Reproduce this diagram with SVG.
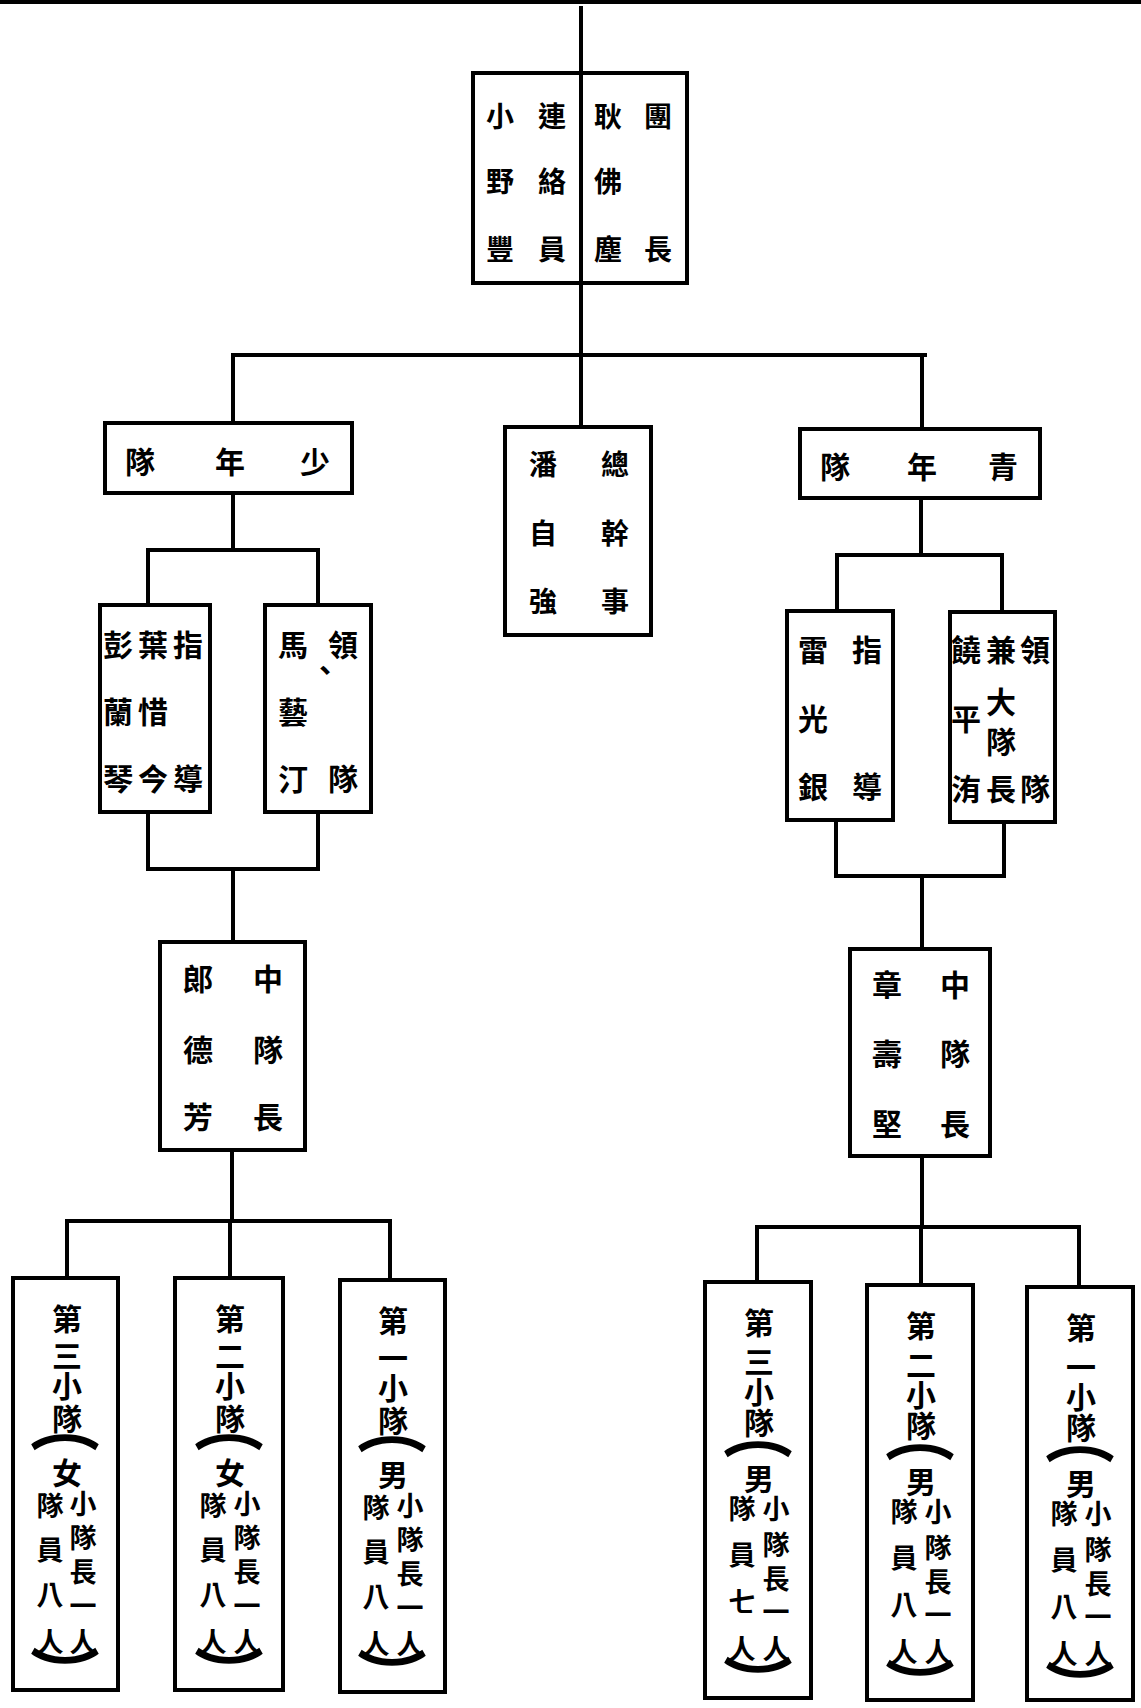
<svg xmlns="http://www.w3.org/2000/svg" width="1141" height="1708" viewBox="0 0 1141 1708">
<style>
.ln{stroke:#000;stroke-width:4;fill:none;stroke-linecap:square}
.bx{fill:#fff;stroke:#000;stroke-width:4}
.t{font-family:"Noto Sans CJK TC","Noto Sans CJK SC",sans-serif;font-weight:700;fill:#000;text-anchor:middle;dominant-baseline:central}
.f28{font-size:28px}
.f30{font-size:30px}
.f27{font-size:27px}
.br{font-family:"Noto Sans CJK TC","Noto Sans CJK SC",sans-serif;font-weight:900;font-size:50px;fill:#000;text-anchor:middle;dominant-baseline:central}
</style>
<rect x="0" y="0" width="1141" height="1708" fill="#fff"/>
<g id="connectors">
<line class="ln" x1="0" y1="2" x2="1141" y2="2"/>
<line class="ln" x1="581" y1="8" x2="581" y2="73"/>
<line class="ln" x1="581" y1="283" x2="581" y2="355"/>
<line class="ln" x1="233" y1="355" x2="925" y2="355"/>
<line class="ln" x1="233" y1="355" x2="233" y2="423"/>
<line class="ln" x1="581" y1="355" x2="581" y2="427"/>
<line class="ln" x1="922" y1="355" x2="922" y2="429"/>
<line class="ln" x1="233" y1="493" x2="233" y2="550"/>
<line class="ln" x1="148" y1="550" x2="318" y2="550"/>
<line class="ln" x1="148" y1="550" x2="148" y2="605"/>
<line class="ln" x1="318" y1="550" x2="318" y2="605"/>
<line class="ln" x1="148" y1="812" x2="148" y2="869"/>
<line class="ln" x1="318" y1="812" x2="318" y2="869"/>
<line class="ln" x1="148" y1="869" x2="318" y2="869"/>
<line class="ln" x1="233" y1="869" x2="233" y2="942"/>
<line class="ln" x1="232" y1="1150" x2="232" y2="1221"/>
<line class="ln" x1="67" y1="1221" x2="390" y2="1221"/>
<line class="ln" x1="67" y1="1221" x2="67" y2="1278"/>
<line class="ln" x1="230" y1="1221" x2="230" y2="1278"/>
<line class="ln" x1="390" y1="1221" x2="390" y2="1280"/>
<line class="ln" x1="921" y1="498" x2="921" y2="555"/>
<line class="ln" x1="837" y1="555" x2="1002" y2="555"/>
<line class="ln" x1="837" y1="555" x2="837" y2="611"/>
<line class="ln" x1="1002" y1="555" x2="1002" y2="612"/>
<line class="ln" x1="836" y1="820" x2="836" y2="876"/>
<line class="ln" x1="1004" y1="822" x2="1004" y2="876"/>
<line class="ln" x1="836" y1="876" x2="1004" y2="876"/>
<line class="ln" x1="922" y1="876" x2="922" y2="949"/>
<line class="ln" x1="922" y1="1156" x2="922" y2="1227"/>
<line class="ln" x1="757" y1="1227" x2="1079" y2="1227"/>
<line class="ln" x1="757" y1="1227" x2="757" y2="1282"/>
<line class="ln" x1="921" y1="1227" x2="921" y2="1285"/>
<line class="ln" x1="1079" y1="1227" x2="1079" y2="1287"/>
</g>
<g id="top">
<rect class="bx" x="473" y="73" width="214" height="210"/>
<line class="ln" x1="581" y1="73" x2="581" y2="283"/>
<text class="t f28"><tspan x="658" y="115">團</tspan><tspan x="658" y="248">長</tspan></text>
<text class="t f28"><tspan x="608" y="115">耿</tspan><tspan x="608" y="180">佛</tspan><tspan x="608" y="248">塵</tspan></text>
<text class="t f28"><tspan x="552" y="115">連</tspan><tspan x="552" y="180">絡</tspan><tspan x="552" y="248">員</tspan></text>
<text class="t f28"><tspan x="500" y="115">小</tspan><tspan x="500" y="180">野</tspan><tspan x="500" y="248">豐</tspan></text>
</g>
<g id="shaonian">
<rect class="bx" x="105" y="423" width="247" height="70"/>
<text class="t f30"><tspan x="140" y="460">隊</tspan><tspan x="230" y="460">年</tspan><tspan x="315" y="460">少</tspan></text>
</g>
<g id="zongganshi">
<rect class="bx" x="505" y="427" width="146" height="208"/>
<text class="t f28"><tspan x="615" y="463">總</tspan><tspan x="615" y="532">幹</tspan><tspan x="615" y="600">事</tspan></text>
<text class="t f28"><tspan x="543" y="463">潘</tspan><tspan x="543" y="532">自</tspan><tspan x="543" y="600">強</tspan></text>
</g>
<g id="qingnian">
<rect class="bx" x="800" y="429" width="240" height="69"/>
<text class="t f30"><tspan x="835" y="465">隊</tspan><tspan x="922" y="465">年</tspan><tspan x="1003" y="465">青</tspan></text>
</g>
<g id="shaonian-zhidao">
<rect class="bx" x="100" y="605" width="110" height="207"/>
<text class="t f30"><tspan x="188" y="643">指</tspan><tspan x="188" y="777">導</tspan></text>
<text class="t f30"><tspan x="153" y="643">葉</tspan><tspan x="153" y="710">惜</tspan><tspan x="153" y="777">今</tspan></text>
<text class="t f30"><tspan x="118" y="643">彭</tspan><tspan x="118" y="710">蘭</tspan><tspan x="118" y="777">琴</tspan></text>
</g>
<g id="shaonian-lingdui">
<rect class="bx" x="265" y="605" width="106" height="207"/>
<text class="t f30"><tspan x="343" y="643">領</tspan><tspan x="343" y="777">隊</tspan></text>
<text class="t f30"><tspan x="293" y="643">馬</tspan><tspan x="325" y="668">、</tspan><tspan x="293" y="710">藝</tspan><tspan x="293" y="777">汀</tspan></text>
</g>
<g id="qingnian-zhidao">
<rect class="bx" x="787" y="611" width="106" height="209"/>
<text class="t f30"><tspan x="867" y="648">指</tspan><tspan x="867" y="785">導</tspan></text>
<text class="t f30"><tspan x="813" y="648">雷</tspan><tspan x="813" y="717">光</tspan><tspan x="813" y="785">銀</tspan></text>
</g>
<g id="qingnian-lingdui">
<rect class="bx" x="950" y="612" width="105" height="210"/>
<text class="t f30"><tspan x="1035" y="648">領</tspan><tspan x="1035" y="787">隊</tspan></text>
<text class="t f30"><tspan x="1001" y="648">兼</tspan><tspan x="1001" y="700">大</tspan><tspan x="1001" y="740">隊</tspan><tspan x="1001" y="787">長</tspan></text>
<text class="t f30"><tspan x="966" y="648">饒</tspan><tspan x="966" y="717">平</tspan><tspan x="966" y="787">洧</tspan></text>
</g>
<g id="shaonian-zhongdui">
<rect class="bx" x="160" y="942" width="145" height="208"/>
<text class="t f30"><tspan x="268" y="977">中</tspan><tspan x="268" y="1048">隊</tspan><tspan x="268" y="1115">長</tspan></text>
<text class="t f30"><tspan x="198" y="977">郞</tspan><tspan x="198" y="1048">德</tspan><tspan x="198" y="1115">芳</tspan></text>
</g>
<g id="qingnian-zhongdui">
<rect class="bx" x="850" y="949" width="140" height="207"/>
<text class="t f30"><tspan x="955" y="983">中</tspan><tspan x="955" y="1052">隊</tspan><tspan x="955" y="1122">長</tspan></text>
<text class="t f30"><tspan x="887" y="983">章</tspan><tspan x="887" y="1052">壽</tspan><tspan x="887" y="1122">堅</tspan></text>
</g>
<g id="s-f3" transform="translate(13,1278)">
<rect class="bx" x="0" y="0" width="105" height="412"/>
<text class="t f30"><tspan x="54" y="39">第</tspan><tspan x="54" y="76">三</tspan><tspan x="54" y="106">小</tspan><tspan x="54" y="139">隊</tspan><tspan x="54" y="193">女</tspan></text>
<text class="br" transform="translate(52,146) scale(1.4,1)">︵</text>
<text class="t f27"><tspan x="70" y="224">小</tspan><tspan x="70" y="258">隊</tspan><tspan x="70" y="292">長</tspan><tspan x="70" y="326">一</tspan><tspan x="70" y="362">人</tspan></text>
<text class="t f27"><tspan x="37" y="226">隊</tspan><tspan x="37" y="270">員</tspan><tspan x="37" y="315">八</tspan><tspan x="37" y="362">人</tspan></text>
<text class="br" transform="translate(52,390) scale(1.4,1)">︶</text>
</g>
<g id="s-f2" transform="translate(175,1278)">
<rect class="bx" x="0" y="0" width="108" height="412"/>
<text class="t f30"><tspan x="55" y="39">第</tspan><tspan x="55" y="76">二</tspan><tspan x="55" y="106">小</tspan><tspan x="55" y="139">隊</tspan><tspan x="55" y="193">女</tspan></text>
<text class="br" transform="translate(54,146) scale(1.4,1)">︵</text>
<text class="t f27"><tspan x="72" y="224">小</tspan><tspan x="72" y="258">隊</tspan><tspan x="72" y="292">長</tspan><tspan x="72" y="326">一</tspan><tspan x="72" y="362">人</tspan></text>
<text class="t f27"><tspan x="38" y="226">隊</tspan><tspan x="38" y="270">員</tspan><tspan x="38" y="315">八</tspan><tspan x="38" y="362">人</tspan></text>
<text class="br" transform="translate(54,390) scale(1.4,1)">︶</text>
</g>
<g id="s-m1a" transform="translate(340,1280)">
<rect class="bx" x="0" y="0" width="105" height="412"/>
<text class="t f30"><tspan x="53" y="39">第</tspan><tspan x="53" y="76">一</tspan><tspan x="53" y="106">小</tspan><tspan x="53" y="139">隊</tspan><tspan x="53" y="193">男</tspan></text>
<text class="br" transform="translate(52,146) scale(1.4,1)">︵</text>
<text class="t f27"><tspan x="70" y="224">小</tspan><tspan x="70" y="258">隊</tspan><tspan x="70" y="292">長</tspan><tspan x="70" y="326">一</tspan><tspan x="70" y="362">人</tspan></text>
<text class="t f27"><tspan x="36" y="226">隊</tspan><tspan x="36" y="270">員</tspan><tspan x="36" y="315">八</tspan><tspan x="36" y="362">人</tspan></text>
<text class="br" transform="translate(52,390) scale(1.4,1)">︶</text>
</g>
<g id="s-m3" transform="translate(705,1282)">
<rect class="bx" x="0" y="0" width="106" height="416"/>
<text class="t f30"><tspan x="54" y="39">第</tspan><tspan x="54" y="78">三</tspan><tspan x="54" y="108">小</tspan><tspan x="54" y="139">隊</tspan><tspan x="54" y="195">男</tspan></text>
<text class="br" transform="translate(53,149) scale(1.4,1)">︵</text>
<text class="t f27"><tspan x="71" y="225">小</tspan><tspan x="71" y="261">隊</tspan><tspan x="71" y="295">長</tspan><tspan x="71" y="328">一</tspan><tspan x="71" y="365">人</tspan></text>
<text class="t f27"><tspan x="37" y="225">隊</tspan><tspan x="37" y="271">員</tspan><tspan x="37" y="318">七</tspan><tspan x="37" y="365">人</tspan></text>
<text class="br" transform="translate(53,395) scale(1.4,1)">︶</text>
</g>
<g id="s-m2" transform="translate(867,1285)">
<rect class="bx" x="0" y="0" width="106" height="415"/>
<text class="t f30"><tspan x="54" y="39">第</tspan><tspan x="54" y="78">二</tspan><tspan x="54" y="108">小</tspan><tspan x="54" y="139">隊</tspan><tspan x="54" y="195">男</tspan></text>
<text class="br" transform="translate(53,149) scale(1.4,1)">︵</text>
<text class="t f27"><tspan x="71" y="225">小</tspan><tspan x="71" y="261">隊</tspan><tspan x="71" y="295">長</tspan><tspan x="71" y="328">一</tspan><tspan x="71" y="365">人</tspan></text>
<text class="t f27"><tspan x="37" y="225">隊</tspan><tspan x="37" y="271">員</tspan><tspan x="37" y="318">八</tspan><tspan x="37" y="365">人</tspan></text>
<text class="br" transform="translate(53,395) scale(1.4,1)">︶</text>
</g>
<g id="s-m1b" transform="translate(1027,1287)">
<rect class="bx" x="0" y="0" width="106" height="413"/>
<text class="t f30"><tspan x="54" y="39">第</tspan><tspan x="54" y="78">一</tspan><tspan x="54" y="108">小</tspan><tspan x="54" y="139">隊</tspan><tspan x="54" y="195">男</tspan></text>
<text class="br" transform="translate(53,149) scale(1.4,1)">︵</text>
<text class="t f27"><tspan x="71" y="225">小</tspan><tspan x="71" y="261">隊</tspan><tspan x="71" y="295">長</tspan><tspan x="71" y="328">一</tspan><tspan x="71" y="365">人</tspan></text>
<text class="t f27"><tspan x="37" y="225">隊</tspan><tspan x="37" y="271">員</tspan><tspan x="37" y="318">八</tspan><tspan x="37" y="365">人</tspan></text>
<text class="br" transform="translate(53,395) scale(1.4,1)">︶</text>
</g>
</svg>
